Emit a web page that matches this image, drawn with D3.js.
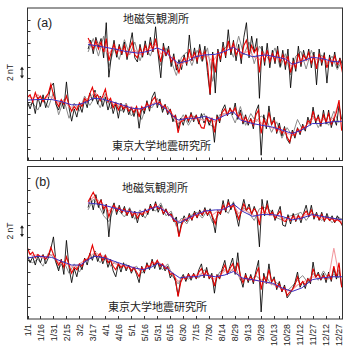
<!DOCTYPE html>
<html><head><meta charset="utf-8">
<script src="https://cdn.jsdelivr.net/npm/d3@7"></script>
<style>body{margin:0;background:#fff}svg{display:block}</style>
</head><body>
<svg id="chart" width="354" height="358"></svg>
<script>
// ---------- data ----------
const tickDays = [0,15,30,45,60,75,90,105,120,135,150,165,180,195,210,225,240,255,270,285,300,315,330,345,360];
const tickLabels = ["1/1","1/16","1/31","2/15","3/2","3/17","4/1","4/16","5/1","5/16","5/31","6/15","6/30","7/15","7/30","8/14","8/29","9/13","9/28","10/13","10/28","11/12","11/27","12/12","12/27"];
const stationUpper = "地磁気観測所";
const stationLower = "東京大学地震研究所";
const panelNames = ["(a)","(b)"];
const upperStartDay = 70, lowerStartDay = 0;
const fineStep = 3, coarseStep = 6;

// panel (a) upper station (nT)
const aUpperBlack = [19.0,20.5,18.2,21.0,19.4,20.8,17.5,23.5,14.2,18.0,
20.5,17.6,19.8,18.0,20.2,17.2,19.5,21.8,17.5,16.8,
19.8,17.6,20.4,18.0,21.0,18.5,22.8,18.0,14.1,20.0,
17.8,19.5,16.0,18.2,15.4,17.2,15.5,18.0,16.2,21.4,
17.0,19.2,16.5,19.8,17.0,19.5,15.0,11.2,18.5,11.5,
19.0,16.8,20.2,17.5,22.3,18.0,20.5,17.0,19.8,16.5,
21.0,23.5,17.5,21.2,18.5,20.8,10.6,19.5,16.2,20.0,
15.8,18.8,16.5,19.5,16.0,18.8,15.5,19.0,12.4,17.5,
15.2,19.5,16.0,18.8,17.0,19.0,15.8,18.5,12.9,19.0,
16.2,18.4,13.2,18.0,16.0,18.5,15.8,17.5,16.0];
const aUpperRed = [20.9,20.0,19.0,20.4,19.0,20.2,18.5,20.8,17.0,18.6,
19.8,18.2,19.4,18.3,19.6,17.8,19.0,20.2,18.0,17.5,
19.2,18.0,19.6,18.4,20.0,18.8,20.8,18.6,16.8,19.2,
18.0,18.8,16.8,17.6,16.2,15.0,16.8,17.5,16.6,19.0,
17.2,18.4,17.0,18.8,17.4,18.6,16.5,11.4,18.0,15.0,
18.6,17.4,19.2,18.0,20.4,18.6,20.0,18.0,19.0,17.4,
19.6,20.5,18.0,19.6,18.4,19.2,15.0,18.6,17.0,18.8,
16.8,18.2,17.0,18.6,16.8,18.0,16.4,17.8,15.0,16.8,
15.8,18.2,16.6,18.0,17.2,18.4,16.6,17.8,15.6,18.2,
16.8,17.8,15.8,17.4,16.5,17.8,16.4,17.2,15.0];
const aUpperGray = [18.5,20.8,17.8,21.2,16.0,19.0,17.2,20.6,18.0,20.2,17.0,19.6,17.8,20.5,16.2,19.2,17.0,14.5,17.6,18.5,16.2,18.8,16.8,19.2,13.5,17.8,18.8,19.8,17.6,21.2,18.0,20.2,16.5,19.5,18.2,17.0,19.2,15.8,18.2,14.6,17.8,18.6,15.6,18.8,16.2,18.0,16.5,17.8,15.5,17.2];
const aUpperPink = [20.2,19.6,20.0,19.0,18.2,19.4,18.6,19.0,18.2,18.8,18.0,18.9,19.2,19.8,18.2,18.6,17.6,16.6,16.2,17.4,17.8,17.6,18.2,17.8,16.8,18.2,18.6,19.4,19.6,18.6,18.4,18.6,17.6,17.2,18.2,17.6,17.8,17.2,17.6,16.2,16.4,17.4,17.0,17.8,17.2,17.6,16.8,17.2,16.6,16.4];
const aUpperBlueDays = [70,86,101,113,128,139,150,159,167,174,186,194,205,217,228,238,248,260,275,286,298,306,317,329,340,352,361];
const aUpperBlue = [19.8,19.4,19.0,18.6,18.3,18.6,19.2,18.6,17.4,16.6,17.0,17.7,18.0,18.1,18.6,19.3,18.3,17.7,18.0,17.7,17.3,16.4,16.9,17.6,17.4,16.9,16.8];

// panel (a) lower station (nT)
const aLowerBlack = [10.0,8.8,10.2,8.0,10.8,9.2,11.2,9.0,10.5,12.6,
13.2,9.5,8.6,10.2,8.8,13.4,9.0,6.7,8.8,7.4,
9.6,8.2,10.4,9.0,11.5,10.2,12.0,9.6,11.0,9.2,
10.8,8.6,10.2,8.0,9.6,7.2,9.8,8.2,9.4,7.8,
9.0,7.5,9.2,5.5,9.0,8.0,10.2,8.4,10.8,11.7,
9.0,10.5,8.2,9.6,7.8,8.8,6.6,7.8,5.4,7.2,
6.0,7.8,6.5,8.2,6.6,7.8,6.2,8.0,6.4,7.6,
6.0,7.2,3.1,7.8,6.4,8.6,9.5,7.6,9.0,7.8,
9.8,7.0,8.6,6.2,7.8,6.0,7.2,5.4,8.4,9.5,
0.9,7.8,5.4,9.3,6.0,7.4,4.6,6.4,4.2,5.8,
3.6,2.9,5.2,3.8,5.6,4.4,6.2,5.0,7.4,6.0,
9.1,6.4,7.8,5.8,8.6,6.2,8.6,5.6,7.2,6.0,
9.4,7.0];
const aLowerRed = [10.8,11.2,10.0,11.6,10.4,11.0,10.0,10.8,11.4,13.0,
11.2,10.0,9.2,10.4,9.6,11.0,9.4,8.4,9.2,8.6,
9.8,9.2,10.6,10.0,11.4,12.5,10.8,11.2,10.2,11.0,
12.2,10.0,10.6,9.0,9.8,8.6,9.6,8.8,9.4,8.4,
9.0,8.2,9.2,7.4,9.2,8.6,9.8,9.0,10.2,10.8,
9.6,10.0,9.0,9.4,8.2,8.6,7.4,7.6,4.7,6.6,
6.8,7.6,6.8,7.8,7.0,7.6,6.6,5.6,5.5,7.4,
6.6,7.2,4.8,7.4,6.8,8.2,8.8,7.8,8.8,8.2,
9.0,7.4,8.0,6.6,7.4,6.4,7.0,6.0,7.8,8.6,
4.6,7.0,6.0,8.2,6.2,6.8,5.0,5.8,4.6,5.4,
4.0,3.2,4.8,4.2,5.4,4.8,5.8,5.4,6.8,6.4,
8.4,6.8,7.4,6.2,7.8,6.6,8.0,6.2,7.0,8.2,
10.3,5.1];
const aLowerGray = [9.2,9.8,8.6,10.6,9.0,11.6,7.8,10.4,7.2,9.8,8.4,11.0,9.4,10.8,9.0,11.4,8.8,10.0,8.4,9.8,7.6,8.8,7.0,9.6,9.0,10.6,8.6,9.2,7.0,6.2,7.8,6.0,7.6,7.0,8.0,6.2,5.6,7.8,8.0,8.4,6.4,9.2,6.0,8.0,6.6,7.6,7.0,4.8,6.6,3.8,5.6,4.2,7.0,5.2,6.4,7.6,5.6,7.4,6.0,8.4,6.4];
const aLowerPink = [11.0,10.6,11.2,10.2,11.0,10.6,9.8,10.2,9.2,9.0,9.4,10.2,10.8,11.6,10.6,11.0,10.2,9.6,9.4,8.8,9.2,8.6,8.8,9.4,9.6,10.2,9.4,8.8,7.8,6.4,7.2,7.4,7.0,7.2,6.8,7.4,6.6,7.2,8.0,8.4,8.6,7.2,6.8,6.6,7.0,6.4,6.0,5.6,5.4,4.8,4.6,4.4,5.0,5.6,6.2,7.2,6.8,7.0,6.6,7.4,10.0];
const aLowerBlueDays = [0,12,28,40,51,58,69,75,86,98,109,121,130,139,150,159,167,174,186,194,205,217,228,238,246,260,271,283,294,306,317,329,340,352,364];
const aLowerBlue = [10.3,10.4,10.4,10.0,9.5,9.5,10.0,10.6,10.5,10.0,9.5,8.9,8.8,9.2,9.8,8.9,7.7,6.9,7.2,7.2,7.5,6.9,7.7,8.3,6.9,6.3,6.0,5.7,5.2,4.6,5.2,6.3,6.3,6.6,6.7];

// panel (b) upper station (nT)
const bUpperBlack = [19.0,20.6,18.6,21.2,19.0,20.4,18.0,19.6,14.0,18.6,
19.8,17.8,19.4,18.0,19.2,17.6,18.8,17.2,18.4,16.4,
18.2,17.4,18.8,17.8,19.6,18.4,20.0,18.2,19.4,17.8,
18.8,17.6,18.0,16.6,17.4,14.2,16.4,17.6,16.6,18.0,
16.8,18.4,17.2,18.6,17.6,19.0,17.6,18.8,17.0,14.7,
18.6,17.8,20.2,18.2,20.4,18.6,19.8,17.8,15.8,18.6,
20.4,18.4,19.6,17.8,19.2,18.0,12.3,20.4,17.6,20.2,
17.6,18.6,16.8,18.0,19.2,16.0,15.8,17.8,16.2,18.0,
16.6,17.8,16.4,18.0,19.4,17.4,19.4,17.0,18.2,16.8,
18.2,16.6,18.0,16.8,17.6,16.4,17.6,16.8,15.8];
const bUpperRed = [20.0,20.8,21.6,20.6,19.6,20.2,18.8,19.4,17.4,18.8,
19.4,18.4,19.0,18.2,18.8,17.8,18.6,17.6,18.2,17.2,
18.0,17.8,18.6,18.2,19.2,18.8,19.6,18.8,19.0,18.0,
18.6,17.8,17.8,16.8,16.6,14.0,16.0,17.0,16.8,17.6,
17.0,18.0,17.4,18.2,17.8,18.6,17.8,18.4,17.4,16.2,
18.2,18.0,19.4,18.6,19.8,19.0,19.4,18.2,17.0,18.4,
19.6,18.6,19.0,18.0,18.8,18.2,16.0,19.2,18.0,19.4,
17.8,18.2,17.2,17.8,18.4,16.8,16.6,17.4,16.8,17.6,
16.8,17.6,17.0,17.8,18.4,17.6,18.6,17.4,17.8,17.0,
17.8,16.8,17.4,16.8,17.2,16.6,17.0,16.6,16.1];
const bUpperGray = [18.6,20.4,19.4,17.6,16.6,19.0,18.4,17.4,19.0,17.0,18.6,17.2,19.0,18.4,19.8,17.6,18.4,15.8,17.2,16.2,17.8,18.2,17.2,18.6,16.4,17.6,19.0,18.0,20.0,17.2,19.0,18.0,16.8,18.8,19.0,18.6,17.4,17.0,17.2,17.6,17.8,18.2,16.8,18.0,17.6,16.8,17.6,16.4,17.4,17.0];
const bUpperPink = [19.6,20.8,20.2,19.2,18.4,19.2,18.8,18.4,18.4,17.8,18.2,18.0,18.8,19.2,19.0,18.4,17.6,16.6,16.8,17.2,17.4,17.8,18.2,18.4,17.8,18.4,18.8,19.2,19.4,18.0,18.6,18.2,17.6,17.8,18.4,17.6,17.8,17.4,16.8,17.0,17.4,17.4,17.8,17.8,17.4,17.2,17.2,17.0,16.8,16.6];
const bUpperBlueDays = [70,86,101,113,128,139,150,159,168,176,186,194,205,217,225,238,248,260,271,283,294,306,317,329,340,352,364];
const bUpperBlue = [19.8,19.5,18.9,18.4,18.1,18.6,19.2,18.4,17.2,16.4,17.2,17.8,18.4,18.6,18.6,19.6,18.4,17.5,17.8,17.8,17.5,16.9,17.2,17.8,17.5,17.2,16.9];

// panel (b) lower station (nT)
const bLowerBlack = [10.8,9.6,10.6,9.2,10.8,9.6,11.0,9.4,10.4,12.0,
14.0,9.6,8.2,10.2,7.6,13.4,8.8,6.2,8.6,7.2,
9.4,8.4,10.4,9.2,11.2,10.0,11.6,9.8,11.0,9.4,
10.6,8.8,10.2,8.2,7.2,9.4,8.0,9.6,8.2,9.2,
7.8,8.8,7.6,6.2,9.0,7.8,9.6,8.4,10.2,8.6,
10.0,8.4,9.4,8.2,9.0,7.0,7.8,6.4,4.0,6.8,
7.6,6.4,7.8,6.6,7.8,6.8,8.4,9.4,7.0,8.8,
6.8,7.8,4.4,7.6,6.8,8.6,10.0,7.6,9.0,10.4,
7.6,11.3,7.0,5.4,7.8,6.2,7.6,6.0,8.2,10.0,
1.2,7.8,6.0,9.4,6.2,7.2,5.0,6.4,4.6,5.8,
3.6,4.2,5.0,6.2,8.0,5.4,6.4,5.2,7.0,6.0,
9.7,7.0,8.0,6.6,7.8,6.2,8.0,6.4,8.6,6.8,
8.4,5.6];
const bLowerRed = [12.1,11.0,11.4,10.4,11.0,10.6,10.8,10.2,10.8,12.2,
11.0,10.0,9.2,10.0,8.8,10.6,9.2,7.8,8.8,8.4,
9.4,9.0,10.2,10.0,11.0,12.6,11.0,10.6,11.2,10.0,
10.8,9.6,10.0,9.0,8.4,9.4,8.8,9.2,8.6,9.0,
8.2,8.8,8.0,7.2,8.8,8.2,9.2,8.8,9.8,9.2,
10.0,9.0,9.4,8.6,8.8,7.6,7.8,6.8,3.8,6.2,
7.2,6.8,7.6,7.0,7.6,7.0,8.0,8.6,7.4,8.2,
7.0,7.4,5.6,7.4,7.0,8.2,9.2,7.8,8.6,9.4,
8.0,9.6,7.4,6.2,7.4,6.6,7.2,6.4,7.6,8.8,
5.0,7.2,6.4,8.4,6.4,6.8,5.4,6.0,4.8,5.4,
4.0,4.6,5.0,5.8,7.2,5.8,6.4,5.8,6.8,6.4,
8.6,7.2,7.6,6.8,7.4,6.8,7.6,6.8,9.0,7.2,
9.6,5.4];
const bLowerGray = [10.0,9.6,10.2,9.0,11.2,10.6,8.6,9.8,7.8,9.4,8.0,9.8,10.4,10.8,9.6,11.0,9.0,9.8,8.6,9.4,8.4,9.0,7.8,8.8,9.2,9.6,8.4,9.4,7.2,6.0,7.2,6.8,7.4,7.0,8.4,7.6,6.0,8.0,8.4,8.0,9.0,6.6,7.0,6.6,7.4,6.6,7.2,5.8,6.2,5.2,4.8,5.6,6.6,7.4,6.2,7.8,6.6,8.2,6.8,7.6,7.0];
const bLowerPink = [11.4,10.8,11.0,10.4,10.8,11.0,9.6,9.4,9.2,8.8,9.4,10.0,10.6,11.4,10.8,10.6,10.0,9.4,9.2,9.0,8.8,8.6,8.4,8.8,9.4,9.8,9.2,8.8,7.6,6.4,7.0,7.2,7.4,7.6,7.8,7.4,6.8,7.4,8.2,8.4,8.2,7.0,6.8,6.8,6.6,6.4,6.2,6.0,5.6,5.2,4.8,5.0,5.8,6.2,6.8,7.2,7.0,7.2,7.0,12.1,7.4];
const bLowerBlueDays = [0,12,28,40,51,61,70,78,90,101,113,124,134,144,151,159,168,176,186,194,205,217,228,238,248,260,271,283,294,306,317,329,340,352,364];
const bLowerBlue = [10.4,10.7,10.5,9.8,9.2,9.2,10.1,10.7,10.4,9.8,9.2,8.7,8.4,8.9,9.5,8.9,7.8,7.0,7.2,7.2,7.5,7.2,7.5,8.1,7.0,6.7,6.4,6.1,5.3,4.7,5.3,6.7,7.0,7.2,7.2];

const yDomain = [0, 26];       // nT span of each panel
const yTickStep = 2;           // nT between ticks
const scaleBar = [14, 16];     // "2 nT" bar

// ---------- drawing ----------
const svg = d3.select("#chart");
const left = 27.5, right = 342.5;
const x = d3.scaleLinear().domain([0, 364]).range([left, right]);
const panels = [
  {name: panelNames[0], top: 8, bottom: 160.5,
   upper: {black: aUpperBlack, red: aUpperRed, gray: aUpperGray, pink: aUpperPink, blueDays: aUpperBlueDays, blue: aUpperBlue},
   lower: {black: aLowerBlack, red: aLowerRed, gray: aLowerGray, pink: aLowerPink, blueDays: aLowerBlueDays, blue: aLowerBlue},
   upText: [123, 23], lowText: [112, 150], nameXY: [37, 27]},
  {name: panelNames[1], top: 166.5, bottom: 319,
   upper: {black: bUpperBlack, red: bUpperRed, gray: bUpperGray, pink: bUpperPink, blueDays: bUpperBlueDays, blue: bUpperBlue},
   lower: {black: bLowerBlack, red: bLowerRed, gray: bLowerGray, pink: bLowerPink, blueDays: bLowerBlueDays, blue: bLowerBlue},
   upText: [122, 192], lowText: [108, 311], nameXY: [35, 186]}
];

const seq = (vals, start, step) => vals.map((v, i) => [start + i * step, v]);

panels.forEach((p, pi) => {
  const y = d3.scaleLinear().domain(yDomain).range([p.bottom, p.top]);
  const g = svg.append("g");
  const clipId = "clip" + pi;
  svg.append("clipPath").attr("id", clipId).append("rect")
    .attr("x", left).attr("y", p.top).attr("width", right - left).attr("height", p.bottom - p.top);

  const line = d3.line().x(d => x(d[0])).y(d => y(d[1]));
  const lines = g.append("g").attr("clip-path", `url(#${clipId})`).attr("fill", "none");

  [[p.upper, upperStartDay], [p.lower, lowerStartDay]].forEach(([s, start]) => {
    lines.append("path").attr("d", line(seq(s.gray, start, coarseStep))).attr("stroke", "#8a8a8a").attr("stroke-width", 1);
    lines.append("path").attr("d", line(seq(s.black, start, fineStep))).attr("stroke", "#000").attr("stroke-width", 0.85);
    lines.append("path").attr("d", line(seq(s.pink, start, coarseStep))).attr("stroke", "#f29aa0").attr("stroke-width", 1.1);
    lines.append("path").attr("d", line(seq(s.red, start, fineStep))).attr("stroke", "#e60000").attr("stroke-width", 1.1);
    lines.append("path").attr("d", line(s.blueDays.map((d, i) => [d, s.blue[i]]))).attr("stroke", "#3a2fc0").attr("stroke-width", 1);
  });

  // y ticks (inside)
  const yt = d3.range(yDomain[0] + yTickStep, yDomain[1], yTickStep);
  g.selectAll(".yt").data(yt).enter().append("line")
    .attr("x1", left).attr("x2", left + 3)
    .attr("y1", d => Math.round(y(d)) + 0.5).attr("y2", d => Math.round(y(d)) + 0.5)
    .attr("stroke", "#333");
  // x ticks (inside, bottom)
  g.selectAll(".xt").data(tickDays).enter().append("line")
    .attr("x1", d => Math.round(x(d)) + 0.5).attr("x2", d => Math.round(x(d)) + 0.5)
    .attr("y1", p.bottom).attr("y2", p.bottom - 3)
    .attr("stroke", "#333");

  // frame
  g.append("rect").attr("x", left).attr("y", p.top).attr("width", right - left).attr("height", p.bottom - p.top)
    .attr("fill", "none").attr("stroke", "#333").attr("stroke-width", 1);

  // labels
  g.append("text").attr("x", p.nameXY[0]).attr("y", p.nameXY[1]).text(p.name)
    .attr("font-family", "Liberation Sans, Arial, sans-serif").attr("font-size", 12.5).attr("fill", "#222");
  g.append("text").attr("x", p.upText[0]).attr("y", p.upText[1]).text(stationUpper)
    .attr("font-family", "Noto Sans CJK JP").attr("font-size", 11).attr("fill", "#222");
  g.append("text").attr("x", p.lowText[0]).attr("y", p.lowText[1]).text(stationLower)
    .attr("font-family", "Noto Sans CJK JP").attr("font-size", 11).attr("fill", "#222");

  // 2 nT scale bar
  const yc = (y(scaleBar[0]) + y(scaleBar[1])) / 2;
  g.append("text").attr("transform", `translate(13,${yc}) rotate(-90)`).attr("text-anchor", "middle")
    .text("2 nT").attr("font-family", "Liberation Sans, Arial, sans-serif").attr("font-size", 8.5).attr("fill", "#222");
  const ax = 22;
  const y1 = y(scaleBar[1]), y2 = y(scaleBar[0]);
  g.append("line").attr("x1", ax).attr("x2", ax).attr("y1", y1 + 1).attr("y2", y2 - 1).attr("stroke", "#222");
  g.append("path").attr("d", `M${ax-2},${y1+3}L${ax},${y1}L${ax+2},${y1+3}Z`).attr("fill", "#222");
  g.append("path").attr("d", `M${ax-2},${y2-3}L${ax},${y2}L${ax+2},${y2-3}Z`).attr("fill", "#222");

  if (pi === 1) {
    svg.append("g").selectAll("text").data(tickDays).enter().append("text")
      .attr("transform", d => `translate(${x(d) + 3.2},${p.bottom + 5}) rotate(-90)`)
      .attr("text-anchor", "end")
      .text((d, i) => tickLabels[i])
      .attr("font-family", "Liberation Sans, Arial, sans-serif").attr("font-size", 8.8).attr("fill", "#222");
  }
});
</script>
</body></html>
